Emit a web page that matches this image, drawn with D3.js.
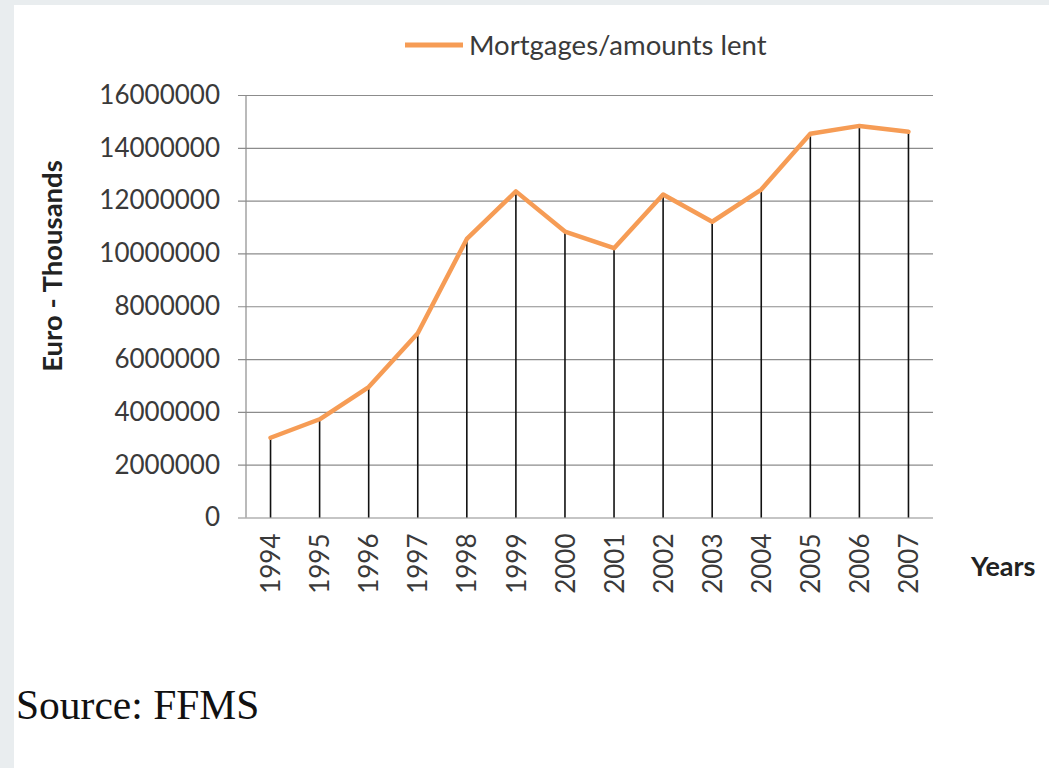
<!DOCTYPE html>
<html>
<head>
<meta charset="utf-8">
<script src="https://cdn.jsdelivr.net/npm/d3@7"></script>
<style>
  html, body { margin: 0; padding: 0; background: #e9edef; }
  svg { display: block; }
</style>
</head>
<body>
<svg id="chart" width="1049" height="768"></svg>
<script>
// Data
var years = ["1994","1995","1996","1997","1998","1999","2000","2001","2002","2003","2004","2005","2006","2007"];
var amounts = [3020000, 3720000, 4940000, 6980000, 10550000, 12350000, 10830000, 10200000, 12230000, 11200000, 12420000, 14530000, 14830000, 14610000];
var yTicks = [0, 2000000, 4000000, 6000000, 8000000, 10000000, 12000000, 14000000, 16000000];
var seriesName = "Mortgages/amounts lent";

var svg = d3.select("#chart");
var font = "Lato, 'Open Sans', sans-serif";

// white panel
svg.append("rect")
    .attr("x", 14).attr("y", 5)
    .attr("width", 1049 - 14).attr("height", 768 - 5)
    .attr("fill", "#ffffff");

var plotLeft = 246, plotRight = 933, plotTop = 95, plotBottom = 517.5;

var x = d3.scalePoint()
    .domain(years)
    .range([plotLeft, plotRight])
    .padding(0.5);

var y = d3.scaleLinear()
    .domain([0, 16000000])
    .range([plotBottom, plotTop]);

// gridlines + y axis
var yAxis = d3.axisLeft(y)
    .tickValues(yTicks)
    .tickSize(-(plotRight - plotLeft))
    .tickPadding(26)
    .tickFormat(d3.format("d"));

var gy = svg.append("g")
    .attr("transform", "translate(" + plotLeft + ",0)")
    .call(yAxis);
gy.select(".domain").remove();
gy.selectAll(".tick line")
    .attr("x1", -8)
    .attr("stroke", "#8c8c8c")
    .attr("stroke-width", 1.2);
gy.selectAll(".tick text")
    .style("font-family", font)
    .style("font-size", "26px")
    .attr("fill", "#3a3a3a");

// y axis line
svg.append("line")
    .attr("x1", plotLeft).attr("x2", plotLeft)
    .attr("y1", plotTop).attr("y2", plotBottom)
    .attr("stroke", "#8c8c8c")
    .attr("stroke-width", 1.2);

// x axis labels
var xAxis = d3.axisBottom(x).tickSize(0).tickPadding(0);
var gx = svg.append("g")
    .attr("transform", "translate(0," + plotBottom + ")")
    .call(xAxis);
gx.select(".domain").remove();
gx.selectAll(".tick text")
    .attr("transform", "rotate(-90)")
    .attr("x", -16)
    .attr("y", 0)
    .attr("dy", "0.35em")
    .style("text-anchor", "end")
    .style("font-family", font)
    .style("font-size", "26px")
    .attr("fill", "#3a3a3a");

// drop lines
svg.append("g").selectAll("line")
    .data(amounts)
    .enter()
    .append("line")
    .attr("x1", function(d, i) { return x(years[i]); })
    .attr("x2", function(d, i) { return x(years[i]); })
    .attr("y1", function(d) { return y(d); })
    .attr("y2", y(0))
    .attr("stroke", "#111")
    .attr("stroke-width", 1.6);

// series line
var line = d3.line()
    .x(function(d, i) { return x(years[i]); })
    .y(function(d) { return y(d); });

svg.append("path")
    .datum(amounts)
    .attr("d", line)
    .attr("fill", "none")
    .attr("stroke", "#f69c55")
    .attr("stroke-width", 4.5)
    .attr("stroke-linejoin", "round")
    .attr("stroke-linecap", "round");

// legend
svg.append("line")
    .attr("x1", 405).attr("x2", 463)
    .attr("y1", 45).attr("y2", 45)
    .attr("stroke", "#f69c55")
    .attr("stroke-width", 5);
svg.append("text")
    .attr("x", 469).attr("y", 45)
    .attr("dy", "0.35em")
    .style("font-family", font)
    .style("font-size", "27.5px")
    .attr("fill", "#3a3a3a")
    .text(seriesName);

// axis titles
svg.append("text")
    .attr("transform", "translate(52,266) rotate(-90)")
    .attr("dy", "0.35em")
    .style("text-anchor", "middle")
    .style("font-family", font)
    .style("font-weight", "bold")
    .style("font-size", "27.5px")
    .attr("fill", "#222")
    .text("Euro - Thousands");

svg.append("text")
    .attr("x", 971).attr("y", 567)
    .attr("dy", "0.35em")
    .style("font-family", font)
    .style("font-weight", "bold")
    .style("font-size", "27px")
    .attr("fill", "#222")
    .text("Years");

// source note
svg.append("text")
    .attr("x", 16).attr("y", 719)
    .style("font-family", "'Liberation Serif', 'Times New Roman', serif")
    .style("font-size", "41.5px")
    .attr("fill", "#111")
    .text("Source: FFMS");
</script>
</body>
</html>
